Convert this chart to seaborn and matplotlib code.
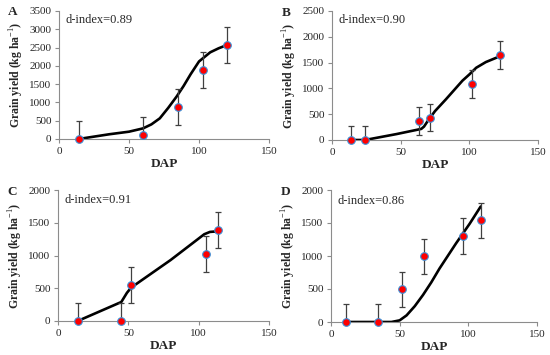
import numpy as np
import seaborn as sns
import matplotlib.pyplot as plt

# observed grain yield (points) and error bar half-widths
obs_x_a = [14, 60, 85, 103, 120]
obs_y_a = [0, 100, 870, 1890, 2570]
err_a = 500

obs_x_b = [14, 24, 63, 71, 102, 122]
obs_y_b = [0, 0, 360, 435, 1085, 1655]
err_b = 270

obs_x_c = [14, 45, 52, 105, 114]
obs_y_c = [0, 0, 545, 1025, 1385]
err_c = 275

obs_x_d = [11, 34, 52, 68, 96, 109]
obs_y_d = [0, 0, 495, 995, 1300, 1540]
err_d = 270

# simulated curves
sim_x_a = [14, 36, 50, 60, 66, 72, 78, 84, 89, 94, 100, 108, 114, 120]
sim_y_a = [0, 130, 200, 290, 400, 565, 850, 1160, 1450, 1770, 2120, 2370, 2480, 2570]

sim_x_b = [14, 24, 47, 65, 67, 70, 75, 83, 95, 100, 105, 112, 122]
sim_y_b = [0, 0, 115, 215, 260, 380, 560, 790, 1150, 1270, 1400, 1510, 1620]

sim_x_c = [14, 45, 49, 52, 80, 104, 108, 111, 114]
sim_y_c = [0, 290, 430, 510, 930, 1325, 1360, 1365, 1360]

sim_x_d = [11, 44, 50, 55, 61, 67, 73, 79, 85, 91, 96, 101, 105, 109]
sim_y_d = [0, 0, 25, 100, 240, 410, 600, 810, 1000, 1190, 1340, 1490, 1620, 1750]

d_index = ["0.89", "0.90", "0.91", "0.86"]
panel_letters = ["A", "B", "C", "D"]
y_max = [3500, 2500, 2000, 2000]

sns.set_style("ticks")
plt.rcParams['font.family'] = ['Liberation Serif', 'DejaVu Serif']
plt.rcParams['mathtext.fontset'] = 'custom'
plt.rcParams['mathtext.rm'] = 'Liberation Serif'
plt.rcParams['mathtext.bf'] = 'Liberation Serif:bold'

W, H = 550, 355
fig = plt.figure(figsize=(5.5, 3.55), dpi=100)

# axes boxes in pixels: left, right, top, bottom
boxes = [(59, 269, 11, 139), (332, 538, 11, 140),
         (58, 269, 190, 321), (331, 537, 190, 322)]
letter_pos = [(13, 12), (286, 13), (12, 192), (286, 192)]
text_y = [0.93, 0.93, 0.92, 0.92]

data = [(obs_x_a, obs_y_a, err_a, sim_x_a, sim_y_a),
        (obs_x_b, obs_y_b, err_b, sim_x_b, sim_y_b),
        (obs_x_c, obs_y_c, err_c, sim_x_c, sim_y_c),
        (obs_x_d, obs_y_d, err_d, sim_x_d, sim_y_d)]

spine_col = '#8c8c8c'

for i, (ox, oy, err, sx, sy) in enumerate(data):
    l, r, t, b = boxes[i]
    ax = fig.add_axes([l / W, 1 - b / H, (r - l) / W, (b - t) / H])

    sns.lineplot(x=sx, y=sy, ax=ax, color='black', lw=1.9, sort=False)
    ax.errorbar(ox, oy, yerr=err, fmt='none', ecolor='#404040',
                elinewidth=0.9, capsize=2.5, capthick=0.9)
    sns.scatterplot(x=ox, y=oy, ax=ax, color='#ff0000', edgecolor='#3a8fd8',
                    linewidth=0.8, s=30, zorder=5, clip_on=False)

    ax.set_xlim(0, 150)
    ax.set_ylim(0, y_max[i])
    ax.set_xticks([0, 50, 100, 150])
    ax.set_yticks(np.arange(0, y_max[i] + 1, 500))
    ax.tick_params(labelsize=8, length=3, width=0.8, color=spine_col, pad=2.5)
    for side in ['top', 'right']:
        ax.spines[side].set_visible(False)
    for side in ['left', 'bottom']:
        ax.spines[side].set_color(spine_col)
        ax.spines[side].set_linewidth(0.8)

    ax.set_xlabel('DAP', fontsize=9.5, fontweight='bold', labelpad=2)
    ax.set_ylabel(r'Grain yield (kg ha$^{-1}$)', fontsize=8.5, fontweight='bold', labelpad=2)
    ax.text(0.03, text_y[i], 'd-index=' + d_index[i], transform=ax.transAxes,
            fontsize=9, va='center', ha='left')

    lx, ly = letter_pos[i]
    fig.text(lx / W, 1 - ly / H, panel_letters[i], fontsize=9.5,
             fontweight='bold', ha='center', va='center')

plt.savefig('out.png', dpi=100)
